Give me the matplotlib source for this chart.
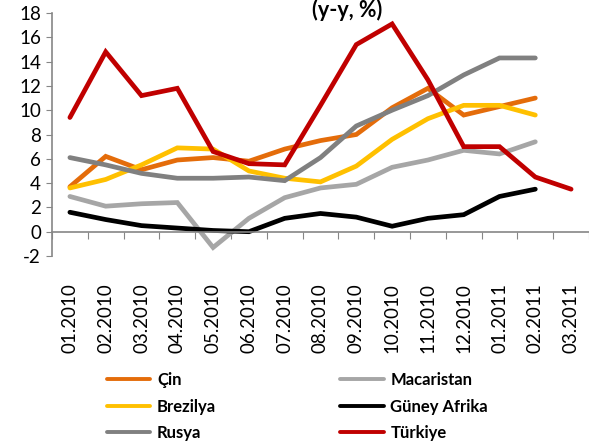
import matplotlib
matplotlib.use("Agg")
import matplotlib.pyplot as plt
import numpy as np

months = ["01.2010", "02.2010", "03.2010", "04.2010", "05.2010", "06.2010", "07.2010",
          "08.2010", "09.2010", "10.2010", "11.2010", "12.2010", "01.2011", "02.2011", "03.2011"]

cin = [3.7, 6.2, 5.1, 5.9, 6.1, 5.8, 6.8, 7.5, 8.0, 10.2, 11.8, 9.6, 10.3, 11.0]
macaristan = [2.9, 2.1, 2.3, 2.4, -1.3, 1.1, 2.8, 3.6, 3.9, 5.3, 5.9, 6.7, 6.4, 7.4]
brezilya = [3.6, 4.3, 5.5, 6.9, 6.8, 5.0, 4.4, 4.1, 5.4, 7.6, 9.3, 10.4, 10.4, 9.6]
guney_afrika = [1.6, 1.0, 0.5, 0.3, 0.1, 0.0, 1.1, 1.5, 1.2, 0.45, 1.1, 1.4, 2.9, 3.5]
rusya = [6.1, 5.5, 4.8, 4.4, 4.4, 4.5, 4.2, 6.1, 8.7, 10.0, 11.2, 12.9, 14.3, 14.3]
turkiye = [9.4, 14.8, 11.2, 11.8, 6.6, 5.6, 5.5, 10.4, 15.4, 17.1, 12.5, 7.0, 7.0, 4.5, 3.5]

series = [
    ("Çin", cin, "#E46C0A"),
    ("Macaristan", macaristan, "#A6A6A6"),
    ("Brezilya", brezilya, "#FFC000"),
    ("Güney Afrika", guney_afrika, "#000000"),
    ("Rusya", rusya, "#808080"),
    ("Türkiye", turkiye, "#C00000"),
]

plt.rcParams['font.family'] = ['Lato', 'DejaVu Sans']
plt.rcParams['axes.unicode_minus'] = False

W, H = 589, 448
fig = plt.figure(figsize=(W / 100, H / 100), dpi=100)
ax = fig.add_axes([52 / W, (H - 256) / H, 537 / W, (256 - 13) / H])

lines = {}
for name, vals, col in series:
    ln, = ax.plot(np.arange(len(vals)), vals, color=col, lw=3.4,
                  solid_joinstyle='miter', solid_capstyle='round', label=name)
    lines[name] = ln

ax.set_xlim(-0.5, len(months) - 0.5)
ax.set_ylim(-2, 18)
ax.set_yticks(np.arange(-2, 19, 2))
ax.tick_params(axis='y', direction='out', length=4, color='#868686', labelsize=13.5, pad=4)

for s in ['top', 'right']:
    ax.spines[s].set_visible(False)
ax.spines['left'].set_color('#868686')
ax.spines['left'].set_linewidth(1.2)
ax.spines['bottom'].set_position(('data', 0))
ax.spines['bottom'].set_color('#868686')
ax.spines['bottom'].set_linewidth(1.2)

ax.set_xticks(np.arange(-0.5, len(months), 1.0))
ax.set_xticklabels([])
ax.tick_params(axis='x', which='major', direction='out', length=5, color='#868686')
ax.set_xticks(np.arange(len(months)), minor=True)
ax.set_xticklabels(months, minor=True, rotation=90, fontsize=13.5)
ax.tick_params(axis='x', which='minor', length=0, pad=37)

fig.text(347 / W, 1 - 10 / H, "(y-y, %)", ha='center', va='center',
         fontsize=15.5, fontweight='bold')

order = ["Çin", "Brezilya", "Rusya", "Macaristan", "Güney Afrika", "Türkiye"]
leg = fig.legend([lines[n] for n in order], order, ncol=2, loc='upper left',
                 bbox_to_anchor=(107 / W, 1 - 372 / H), frameon=False,
                 prop={'weight': 'bold', 'size': 12}, handlelength=2.6,
                 handletextpad=0.4, columnspacing=7.45, labelspacing=0.63,
                 borderaxespad=0, borderpad=0)
for l in leg.get_lines():
    l.set_linewidth(2.8)

fig.savefig("out.png", dpi=100)
